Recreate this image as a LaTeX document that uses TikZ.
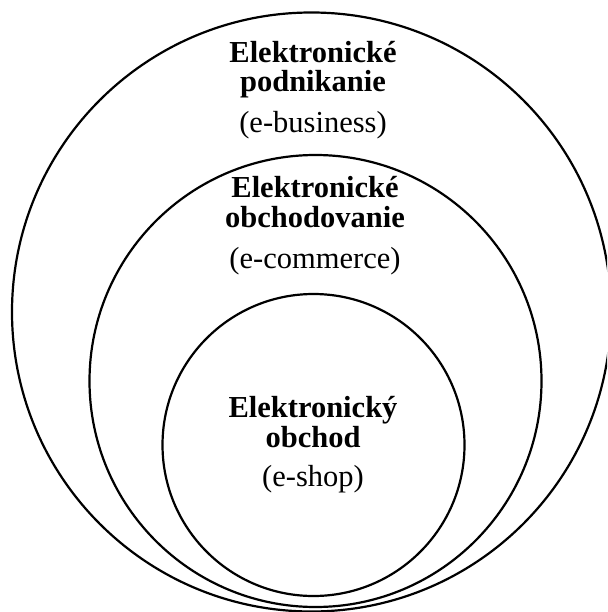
\documentclass[tikz,border=0pt]{standalone}
\usepackage{fontspec}
\setmainfont{Liberation Serif}
\tikzset{
	ring/.style={line width=2.2pt},
	head/.style={anchor=base, inner sep=0pt, font=\fontsize{30.5}{31}\selectfont\bfseries},
	paren/.style={anchor=base, inner sep=0pt, font=\fontsize{30.5}{31}\selectfont},
}
\begin{document}
\begin{tikzpicture}[x=1pt,y=-1pt]
\useasboundingbox (0,0) rectangle (607,612);
\clip (0,0) rectangle (607,612);
\draw[ring] (311.5,312) circle (299.5pt);
\draw[ring] (315.5,381) circle (226pt);
\draw[ring] (313.5,445) circle (151pt);

\node[head] (bizA) at (313,63) {Elektronické};
\node[head] (bizB) at (313,92) {podnikanie};
\node[paren] (bizC) at (313,133) {(e-business)};

\node[head] (comA) at (315,197) {Elektronické};
\node[head] (comB) at (315,227) {obchodovanie};
\node[paren] (comC) at (315,268) {(e-commerce)};

\node[head] (shopA) at (313,417) {Elektronický};
\node[head] (shopB) at (313,447) {obchod};
\node[paren] (shopC) at (313,486) {(e-shop)};
\end{tikzpicture}
\end{document}
